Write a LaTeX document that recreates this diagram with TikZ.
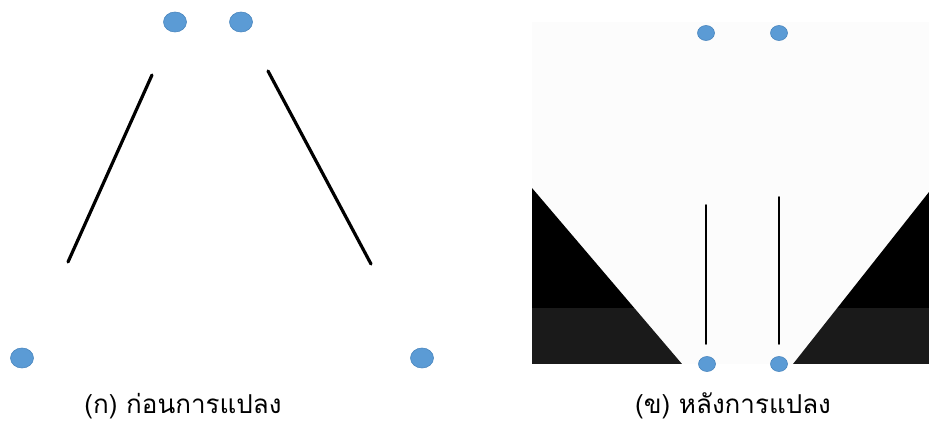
\documentclass[tikz,border=0pt]{standalone}
\usepackage{fontspec}
\newfontfamily\thaifont[Script=Thai]{Loma}
\definecolor{dotblue}{HTML}{5B9BD5}
\definecolor{dotedge}{HTML}{4A86BE}
\definecolor{bandgray}{HTML}{1A1A1A}
\tikzset{
  dot/.style={ellipse,fill=dotblue,draw=dotedge,line width=0.6pt,inner sep=0pt},
  bigdot/.style={dot,minimum width=23pt,minimum height=20pt},
  smalldot/.style={dot,minimum width=17pt,minimum height=15pt},
  rod/.style={line width=3.2pt,line cap=round},
  stick/.style={line width=1.8pt,line cap=round},
  caption/.style={font=\thaifont\fontsize{26}{30}\selectfont,inner sep=0pt}
}
\usetikzlibrary{shapes.geometric}
\begin{document}
\begin{tikzpicture}[x=1pt,y=-1pt]
\useasboundingbox (0,0) rectangle (929,425);

% before
\node[bigdot] (b-tl) at (175,22) {};
\node[bigdot] (b-tr) at (241,22) {};
\node[bigdot] (b-bl) at (22,358) {};
\node[bigdot] (b-br) at (422,358) {};
\coordinate (l-top) at (152,75);
\coordinate (l-bot) at (68,262);
\coordinate (r-top) at (268,71);
\coordinate (r-bot) at (371,264);
\draw[rod] (l-top) -- (l-bot);
\draw[rod] (r-top) -- (r-bot);

% after
\fill[black!1] (532,22) rectangle (929,364);
\begin{scope}
  \clip (532,188) -- (532,364) -- (682,364) -- cycle;
  \fill[black] (532,188) rectangle (682,308);
  \fill[bandgray] (532,308) rectangle (682,364);
\end{scope}
\begin{scope}
  \clip (929,192) -- (929,364) -- (793,364) -- cycle;
  \fill[black] (793,192) rectangle (929,308);
  \fill[bandgray] (793,308) rectangle (929,364);
\end{scope}
\node[smalldot] (a-tl) at (706,33) {};
\node[smalldot] (a-tr) at (779,33) {};
\node[smalldot] (a-bl) at (707,364) {};
\node[smalldot] (a-br) at (779,364) {};
\coordinate (s1-top) at (706,205);
\coordinate (s1-bot) at (706,344);
\coordinate (s2-top) at (779,197);
\coordinate (s2-bot) at (779,344);
\draw[stick] (s1-top) -- (s1-bot);
\draw[stick] (s2-top) -- (s2-bot);

% captions
\node[caption] (cap-a) at (183,406) {(ก) ก่อนการแปลง};
\node[caption] (cap-b) at (733,406) {(ข) หลังการแปลง};
\end{tikzpicture}
\end{document}
